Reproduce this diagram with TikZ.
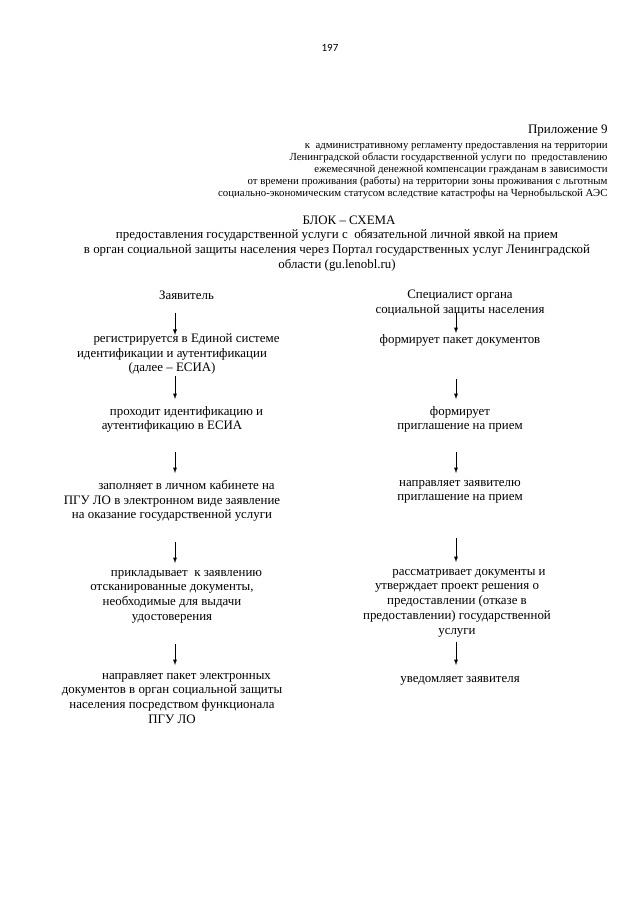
\documentclass[tikz,border=0pt]{standalone}
\usepackage{fontspec}
\setmainfont{Liberation Serif}
\newfontfamily\pagenofont{Carlito}
\newcommand{\bodyfont}{\fontsize{12.9}{14.8}\selectfont}
\newcommand{\headfont}{\fontsize{10.8}{12}\selectfont}
\begin{document}
\begin{tikzpicture}[x=1pt, y=-1pt, >=latex, line width=.9pt,
  txt/.style={font=\bodyfont, inner sep=0pt, align=center, anchor=north,
    execute at begin node=\strut, execute at end node=\strut},
  head/.style={font=\headfont, inner sep=0pt, align=right, anchor=north east,
    execute at begin node=\strut}]
\useasboundingbox (0,0) rectangle (640,905);
\coordinate (axL) at (175,0);
\coordinate (axR) at (456,0);

\node[font=\pagenofont\fontsize{11}{13}\selectfont, anchor=base] (pgno) at (330,51) {197};
\node[font=\fontsize{13}{15}\selectfont, inner sep=0pt, anchor=base east] (pril) at (608,133) {Приложение 9};
\node[head] (hdr) at (608,142.5) {к\ \ административному регламенту предоставления на территории\\
Ленинградской области государственной услуги по\ \ предоставлению\\
ежемесячной денежной компенсации гражданам в зависимости\\
от времени проживания (работы) на территории зоны проживания с льготным\\
социально-экономическим статусом вследствие катастрофы на Чернобыльской АЭС};

\node[txt] (blk) at (349,214) {БЛОК -- СХЕМА};
\node[txt, font=\fontsize{12.9}{15}\selectfont] (ttl) at (337,228.6) {предоставления государственной услуги с\ \ обязательной личной явкой на прием\\
в орган социальной защиты населения через Портал государственных услуг Ленинградской\\
области (gu.lenobl.ru)};

% Заявитель
\node[txt] (zv) at (172,289) {\hspace*{29pt}Заявитель};
\node[txt] (reg) at (172,333) {\hspace*{29pt}регистрируется в Единой системе\\ идентификации и аутентификации\\ (далее -- ЕСИА)};
\node[txt] (idn) at (172,405.6) {\hspace*{29pt}проходит идентификацию и\\ аутентификацию в ЕСИА};
\node[txt] (zap) at (172,479.6) {\hspace*{29pt}заполняет в личном кабинете на\\ ПГУ ЛО в электронном виде заявление\\ на оказание государственной услуги};
\node[txt] (prk) at (172,569.6) {\hspace*{29pt}прикладывает\ \ к заявлению\\ отсканированные документы,\\ необходимые для выдачи\\ удостоверения};
\node[txt] (nap) at (172,672.6) {\hspace*{29pt}направляет пакет электронных\\ документов в орган социальной защиты\\ населения посредством функционала\\ ПГУ ЛО};

% Специалист
\node[txt] (sp) at (460,289.6) {Специалист органа\\ социальной защиты населения};
\node[txt] (fp) at (460,332.6) {формирует пакет документов};
\node[txt] (fpr) at (460,405.6) {формирует\\ приглашение на прием};
\node[txt] (npr) at (460,479.6) {направляет заявителю\\ приглашение на прием};
\node[txt] (rd) at (457,568.6) {\hspace*{24pt}рассматривает документы и\\ утверждает проект решения о\\ предоставлении (отказе в\\ предоставлении) государственной\\ услуги};
\node[txt] (uv) at (460,671.6) {уведомляет заявителя};

\foreach \a/\b/\s/\e in {zv/reg/8.2pt/-1.9pt, reg/idn/-0.8pt/6.6pt, idn/zap/17.6pt/6.6pt, zap/prk/18.6pt/6.6pt, prk/nap/18.6pt/7.6pt}
  \draw[->, shorten <=\s, shorten >=\e] (\a.south -| axL) -- (\b.north -| axL);
\foreach \a/\b/\s/\e in {sp/fp/-5.4pt/-0.4pt, fp/fpr/30.6pt/6.6pt, fpr/npr/17.6pt/6.6pt, npr/rd/32.6pt/6.6pt, rd/uv/2.4pt/6.6pt}
  \draw[->, shorten <=\s, shorten >=\e] (\a.south -| axR) -- (\b.north -| axR);
\end{tikzpicture}
\end{document}
